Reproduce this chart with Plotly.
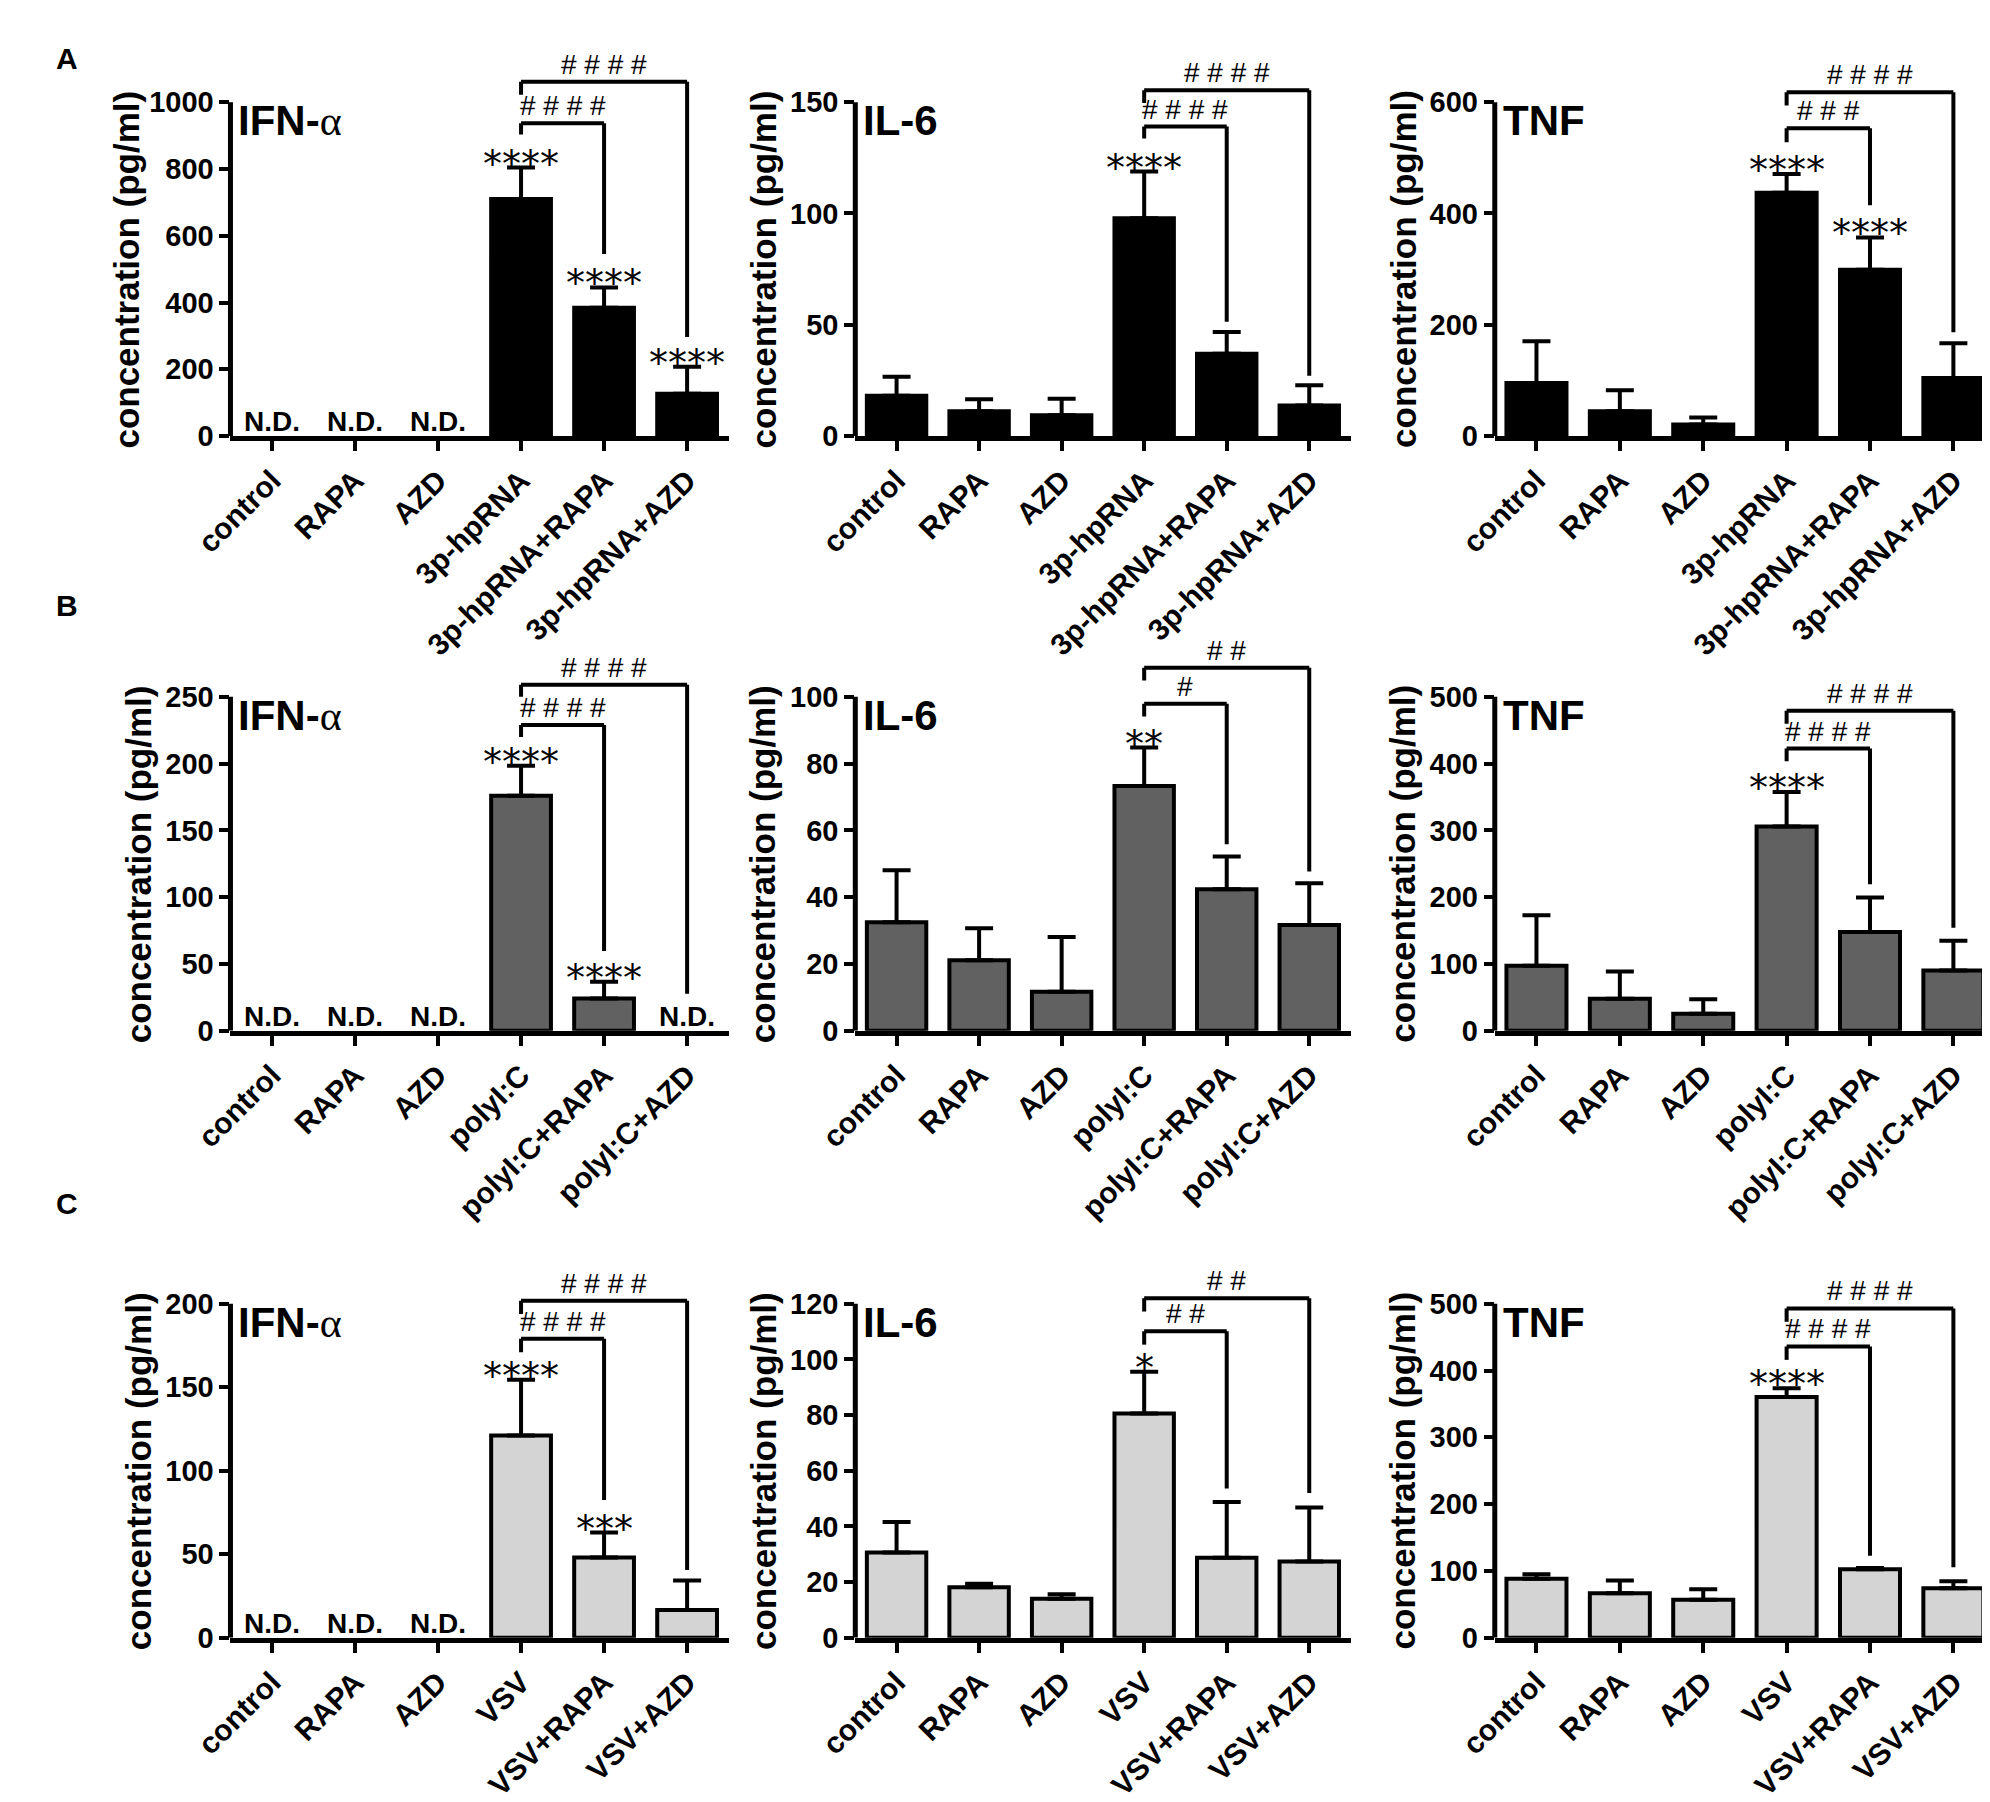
import plotly.graph_objects as go
from plotly.subplots import make_subplots

# category labels per row
cats_3p = ["control", "RAPA", "AZD", "3p-hpRNA", "3p-hpRNA+RAPA", "3p-hpRNA+AZD"]
cats_pic = ["control", "RAPA", "AZD", "polyI:C", "polyI:C+RAPA", "polyI:C+AZD"]
cats_vsv = ["control", "RAPA", "AZD", "VSV", "VSV+RAPA", "VSV+AZD"]

# row A: 3p-hpRNA stimulation (None = N.D.)
ifn_3p = [None, None, None, 710, 384, 127]
ifn_3p_err = [0, 0, 0, 94, 61, 81]
il6_3p = [18.1, 11.2, 9.4, 97.8, 37.0, 13.7]
il6_3p_err = [8.6, 5.3, 7.4, 21.0, 9.8, 9.1]
tnf_3p = [95.6, 44.8, 20.9, 437, 298.8, 104.6]
tnf_3p_err = [74.7, 37.4, 12.7, 33.7, 58.2, 62.0]

# row B: polyI:C stimulation
ifn_pic = [None, None, None, 176, 24.2, None]
ifn_pic_err = [0, 0, 0, 22.4, 12.5, 0]
il6_pic = [32.5, 21.1, 11.7, 73.3, 42.4, 31.7]
il6_pic_err = [15.6, 9.6, 16.4, 11.5, 9.8, 12.5]
tnf_pic = [97.5, 47.9, 25.4, 306, 147.8, 90.4]
tnf_pic_err = [75.7, 40.8, 21.9, 51.6, 52.0, 44.4]

# row C: VSV infection
ifn_vsv = [None, None, None, 121.1, 48, 16.6]
ifn_vsv_err = [0, 0, 0, 33.4, 15, 17.7]
il6_vsv = [30.6, 18.1, 14.0, 80.6, 28.7, 27.4]
il6_vsv_err = [11.0, 1.3, 1.6, 15.0, 20.1, 19.4]
tnf_vsv = [88.4, 66.7, 57.0, 360.3, 102.6, 74.1]
tnf_vsv_err = [6.8, 18.8, 15.4, 13.1, 1.7, 10.3]

# y axis ticks
ticks_ifn_3p = [0, 200, 400, 600, 800, 1000]
ticks_il6_3p = [0, 50, 100, 150]
ticks_tnf_3p = [0, 200, 400, 600]
ticks_ifn_pic = [0, 50, 100, 150, 200, 250]
ticks_il6_pic = [0, 20, 40, 60, 80, 100]
ticks_tnf_pic = [0, 100, 200, 300, 400, 500]
ticks_ifn_vsv = [0, 50, 100, 150, 200]
ticks_il6_vsv = [0, 20, 40, 60, 80, 100, 120]
ticks_tnf_vsv = [0, 100, 200, 300, 400, 500]

# significance vs control: (bar index, stars)
stars_ifn_3p = [(3, "****"), (4, "****"), (5, "****")]
stars_il6_3p = [(3, "****")]
stars_tnf_3p = [(3, "****"), (4, "****")]
stars_ifn_pic = [(3, "****"), (4, "****")]
stars_il6_pic = [(3, "**")]
stars_tnf_pic = [(3, "****")]
stars_ifn_vsv = [(3, "****"), (4, "***")]
stars_il6_vsv = [(3, "*")]
stars_tnf_vsv = [(3, "****")]

# brackets from bar 3: (end bar, top, left leg end, right leg end, hashes)
brk_ifn_3p = [(4, 937, 903, 545, "####"), (5, 1061, 1022, 297, "####")]
brk_il6_3p = [(4, 139, 133.7, 51.4, "####"), (5, 155.3, 149.6, 27.1, "####")]
brk_tnf_3p = [(4, 552.9, 528, 414.6, "###"), (5, 617.8, 594, 186.8, "####")]
brk_ifn_pic = [(4, 229, 220, 59.7, "####"), (5, 259, 250, 27.7, "####")]
brk_il6_pic = [(4, 97.9, 94.1, 55.9, "#"), (5, 108.7, 104.9, 47.7, "##")]
brk_tnf_pic = [(4, 422.6, 403.7, 219.3, "####"), (5, 479.3, 459.8, 154.3, "####")]
brk_ifn_vsv = [(4, 179, 171, 82.5, "####"), (5, 201.8, 193.9, 40.5, "####")]
brk_il6_vsv = [(4, 110.1, 105.3, 53.6, "##"), (5, 122, 117.2, 52, "##")]
brk_tnf_vsv = [(4, 436, 416, 122.6, "####"), (5, 493, 473, 105.5, "####")]

ALPHA = 'IFN-<span style="font-family:Liberation Serif;font-weight:normal">α</span>'

rows = [
    ("A", cats_3p, "black", [
        (ALPHA, ifn_3p, ifn_3p_err, ticks_ifn_3p, stars_ifn_3p, brk_ifn_3p),
        ("IL-6", il6_3p, il6_3p_err, ticks_il6_3p, stars_il6_3p, brk_il6_3p),
        ("TNF", tnf_3p, tnf_3p_err, ticks_tnf_3p, stars_tnf_3p, brk_tnf_3p)]),
    ("B", cats_pic, "#616161", [
        (ALPHA, ifn_pic, ifn_pic_err, ticks_ifn_pic, stars_ifn_pic, brk_ifn_pic),
        ("IL-6", il6_pic, il6_pic_err, ticks_il6_pic, stars_il6_pic, brk_il6_pic),
        ("TNF", tnf_pic, tnf_pic_err, ticks_tnf_pic, stars_tnf_pic, brk_tnf_pic)]),
    ("C", cats_vsv, "#d4d4d4", [
        (ALPHA, ifn_vsv, ifn_vsv_err, ticks_ifn_vsv, stars_ifn_vsv, brk_ifn_vsv),
        ("IL-6", il6_vsv, il6_vsv_err, ticks_il6_vsv, stars_il6_vsv, brk_il6_vsv),
        ("TNF", tnf_vsv, tnf_vsv_err, ticks_tnf_vsv, stars_tnf_vsv, brk_tnf_vsv)]),
]

# layout in paper fractions
col_domains = [(0.0945, 0.3497), (0.4146, 0.6683), (0.7422, 0.9985)]
row_bottoms = [0.7603, 0.4273, 0.0875]
row_letter_y = [0.982, 0.676, 0.320]
PLOT_H = 0.187   # height of 0..max part
EXT = 1.22       # extra room above max for brackets

SANS = "Liberation Sans, Arial, sans-serif"
BOLD = dict(family=SANS, color="black", weight="bold")

fig = make_subplots(rows=3, cols=3)

for r, (letter, cats, fill, panels) in enumerate(rows, start=1):
    fig.add_annotation(text=letter, xref="paper", yref="paper", x=0.004, y=row_letter_y[r - 1],
                       xanchor="left", showarrow=False, font=dict(BOLD, size=30))
    for c, (title, vals, errs, ticks, stars, brackets) in enumerate(panels, start=1):
        idx = (r - 1) * 3 + c
        xa = "x" if idx == 1 else f"x{idx}"
        ya = "y" if idx == 1 else f"y{idx}"
        ymax = ticks[-1]

        fig.add_trace(go.Bar(
            x=cats, y=vals, width=0.72,
            marker=dict(color=fill, line=dict(color="black", width=4)),
            error_y=dict(type="data", symmetric=False, array=errs, arrayminus=[0] * len(errs),
                         color="black", thickness=4, width=14),
            showlegend=False, hoverinfo="skip",
        ), row=r, col=c)

        fig.update_xaxes(domain=col_domains[c - 1], type="category", range=[-0.5, 5.5],
                         showline=True, linewidth=5, linecolor="black",
                         ticks="outside", ticklen=10, tickwidth=4, tickcolor="black",
                         tickangle=-45, tickfont=dict(BOLD, size=30),
                         showgrid=False, zeroline=False, row=r, col=c)
        b = row_bottoms[r - 1]
        fig.update_yaxes(domain=[b, b + PLOT_H * EXT], range=[0, ymax * EXT],
                         tickvals=ticks, ticktext=[str(t) for t in ticks],
                         ticks="outside", ticklen=10, tickwidth=4, tickcolor="black",
                         tickfont=dict(BOLD, size=29), showline=False,
                         showgrid=False, zeroline=False, row=r, col=c)

        # y axis line only up to the top tick
        fig.add_shape(type="line", xref=f"{xa} domain", yref=ya, x0=0, x1=0, y0=0, y1=ymax,
                      line=dict(color="black", width=5))

        # panel title
        fig.add_annotation(text=title, xref=f"{xa} domain", yref=ya, x=0, y=ymax,
                           xanchor="left", yanchor="top", xshift=6, yshift=7, showarrow=False,
                           font=dict(BOLD, size=42))

        # y axis title
        shift = -(56 + 12 * len(str(ymax)))
        fig.add_annotation(text="concentration (pg/ml)", xref=f"{xa} domain", yref=ya,
                           x=0, y=ymax / 2, xanchor="center", yanchor="middle", xshift=shift,
                           textangle=-90, showarrow=False, font=dict(BOLD, size=35))

        # not detected
        for i, v in enumerate(vals):
            if v is None:
                fig.add_annotation(text="N.D.", xref=xa, yref=ya, x=i, y=0, yanchor="bottom",
                                   yshift=-3, showarrow=False, font=dict(BOLD, size=28))

        # stars above error bars
        for i, s in stars:
            fig.add_annotation(text=s, xref=xa, yref=ya, x=i, y=vals[i] + errs[i],
                               yanchor="bottom", yshift=-20, showarrow=False,
                               font=dict(family="DejaVu Sans", size=38, color="black"))

        # comparison brackets
        for end, top, left_end, right_end, lab in brackets:
            fig.add_shape(type="line", xref=xa, yref=ya, x0=3, x1=3, y0=left_end, y1=top,
                          line=dict(color="black", width=4))
            fig.add_shape(type="line", xref=xa, yref=ya, x0=3, x1=end, y0=top, y1=top,
                          line=dict(color="black", width=4))
            fig.add_shape(type="line", xref=xa, yref=ya, x0=end, x1=end, y0=top, y1=right_end,
                          line=dict(color="black", width=4))
            fig.add_annotation(text=" ".join(lab), xref=xa, yref=ya, x=(3 + end) / 2, y=top,
                               yanchor="bottom", yshift=0, showarrow=False,
                               font=dict(family=SANS, size=28, color="black"))

fig.update_layout(
    width=1990, height=1802,
    margin=dict(l=0, r=0, t=0, b=0),
    plot_bgcolor="white", paper_bgcolor="white",
    showlegend=False, bargap=0.28,
)

fig.write_html("out.html")
